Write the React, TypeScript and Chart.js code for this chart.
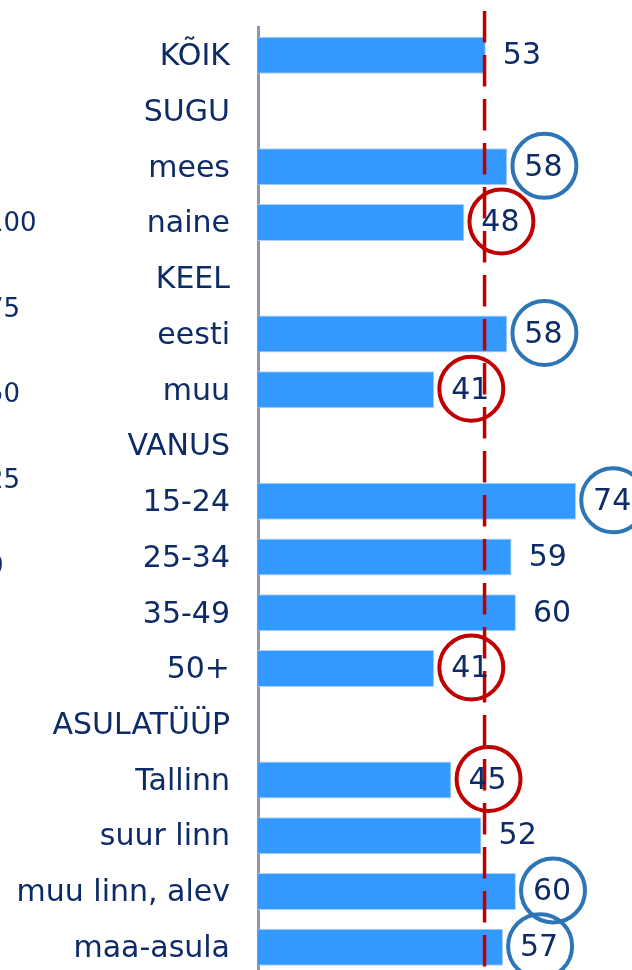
import React, { useEffect, useRef } from "react";
import { Chart, registerables } from "chart.js";

Chart.register(...registerables);

const categories = [
  "KÕIK", "SUGU", "mees", "naine", "KEEL", "eesti", "muu", "VANUS",
  "15-24", "25-34", "35-49", "50+", "ASULATÜÜP", "Tallinn", "suur linn",
  "muu linn, alev", "maa-asula",
];
const values: (number | null)[] = [
  53, null, 58, 48, null, 58, 41, null, 74, 59, 60, 41, null, 45, 52, 60, 57,
];
// "high" = blue circle, "low" = red circle
const highlights = [
  "", "", "high", "low", "", "high", "low", "", "high", "", "", "low", "",
  "low", "", "high", "high",
];
const referenceValue = 52.7;
const sideTickLabels = ["100", "75", "50", "25", "0"];

const FONT = "'DejaVu Sans', Verdana, sans-serif";
const NAVY = "#0D2B66";
const BAR = "#3399FF";
const RED = "#C00000";
const BLUE = "#2E75B6";

const overlayPlugin = {
  id: "overlay",
  afterDraw(chart: any) {
    const ctx = chart.ctx as CanvasRenderingContext2D;
    const xs = chart.scales.x;
    const meta = chart.getDatasetMeta(0);
    ctx.save();

    // side tick labels of the neighbouring chart (cut off at the left edge)
    ctx.font = `26px ${FONT}`;
    ctx.fillStyle = NAVY;
    ctx.textAlign = "left";
    ctx.textBaseline = "middle";
    sideTickLabels.forEach((t, i) => {
      ctx.fillText(t, -13, 224 + i * 85.75);
    });

    // dashed reference line
    const rx = xs.getPixelForValue(referenceValue);
    ctx.strokeStyle = RED;
    ctx.lineWidth = 3.5;
    ctx.setLineDash([31.5, 12.5]);
    ctx.beginPath();
    ctx.moveTo(rx, 11);
    ctx.lineTo(rx, chart.height);
    ctx.stroke();
    ctx.setLineDash([]);

    ctx.font = `30px ${FONT}`;
    meta.data.forEach((bar: any, i: number) => {
      const v = values[i];
      if (v == null) return;
      const label = String(v);
      const w = ctx.measureText(label).width;
      const x0 = bar.x + 17;
      const cy = bar.y;
      const h = highlights[i];
      if (h) {
        ctx.strokeStyle = h === "high" ? BLUE : RED;
        ctx.lineWidth = 4;
        ctx.beginPath();
        ctx.arc(x0 + w / 2 + 1, cy - 1, 32, 0, Math.PI * 2);
        ctx.stroke();
      }
      ctx.fillStyle = NAVY;
      ctx.textAlign = "left";
      ctx.textBaseline = "middle";
      ctx.fillText(label, x0, cy + 1);
    });
    ctx.restore();
  },
};

export default function App() {
  const ref = useRef<HTMLCanvasElement>(null);
  useEffect(() => {
    if (!ref.current) return;
    const chart = new Chart(ref.current, {
      type: "bar",
      data: {
        labels: categories,
        datasets: [
          {
            data: values,
            backgroundColor: BAR,
            borderColor: "#A9D1FB",
            borderWidth: 1,
            barPercentage: 0.664,
            categoryPercentage: 1,
          },
        ],
      },
      options: {
        indexAxis: "y",
        responsive: false,
        animation: false,
        layout: { padding: { top: 27.5, bottom: 0, left: 0, right: 0 } },
        plugins: { legend: { display: false }, tooltip: { enabled: false } },
        scales: {
          x: { display: false, min: 0, max: 87 },
          y: {
            position: "left",
            z: 1,
            grid: { display: false, drawTicks: false },
            border: { display: true, color: "#8D96A9", width: 3 },
            ticks: {
              font: { family: FONT, size: 30 },
              color: NAVY,
              padding: 28,
              labelOffset: 2,
              autoSkip: false,
            },
            afterFit: (scale: any) => {
              scale.width = 258;
              scale.paddingTop = 0;
              scale.paddingBottom = 0;
            },
          },
        },
      },
      plugins: [overlayPlugin],
    });
    return () => chart.destroy();
  }, []);
  return (
    <div
      style={{
        position: "fixed",
        left: 0,
        top: 0,
        width: 632,
        height: 970,
        overflow: "hidden",
        background: "#fff",
      }}
    >
      <canvas ref={ref} width={632} height={975} style={{ display: "block" }} />
    </div>
  );
}
